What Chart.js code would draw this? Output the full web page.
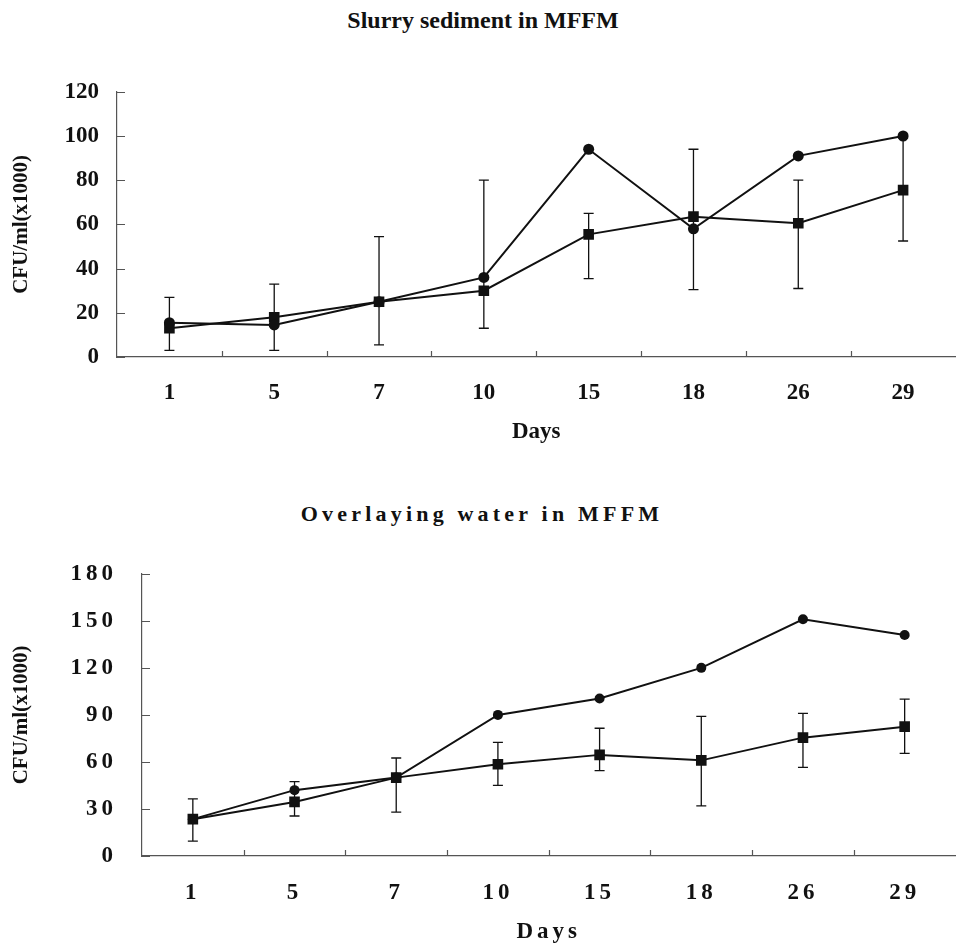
<!DOCTYPE html>
<html>
<head>
<meta charset="utf-8">
<script src="https://cdn.jsdelivr.net/npm/chart.js@4.4.1/dist/chart.umd.min.js"></script>
<style>
  html, body { margin: 0; padding: 0; background: #fff; overflow: hidden; }
  body { width: 963px; height: 950px; position: relative; font-family: "Liberation Serif", "Times New Roman", serif; }
  .ttl { position: absolute; left: 0; font-weight: bold; line-height: 26px; text-align: center; color: #111; white-space: nowrap; }
  .box { position: absolute; left: 0; width: 963px; }
</style>
</head>
<body>
<div class="ttl" style="top:7px;width:966px;font-size:24px">Slurry sediment in MFFM</div>
<div class="ttl" style="top:501px;width:964px;font-size:22px;letter-spacing:4.2px">Overlaying water in MFFM</div>
<div class="box" style="top:60px;height:400px"><canvas id="sed"></canvas></div>
<div class="box" style="top:535px;height:415px"><canvas id="wat"></canvas></div>
<script>
/* 두 패널: 슬러리 퇴적물 / 상부수, 원(●)과 사각(■) 계열, 사각 계열에 오차막대 */

const INK = '#111', AXIS = '#555';
const SERIF = '"Liberation Serif", "Times New Roman", serif';

const days = ['1', '5', '7', '10', '15', '18', '26', '29'];

// 위 패널 (Slurry sediment)
const sedCircle = [15.5, 14.5, 25, 36, 94, 58, 91, 100];
const sedSquare = [13, 18, 25, 30, 55.5, 63.5, 60.5, 75.5];
const sedLow    = [3, 3, 5.5, 13, 35.5, 30.5, 31, 52.5];
const sedHigh   = [27, 33, 54.5, 80, 65, 94, 80, 99];
const sedTicks  = { max: 120, step: 20 };

// 아래 패널 (Overlaying water)
const watCircle = [23.5, 42, 50, 90, 100.5, 120, 151, 141];
const watSquare = [23.5, 34.5, 50, 58.5, 64.5, 61, 75.5, 82.5];
const watLow    = [9.5, 25.5, 28, 45, 54.5, 32, 56.5, 65.5];
const watHigh   = [36.5, 47.5, 62.5, 72.5, 81.5, 89, 91, 100];
const watTicks  = { max: 180, step: 30 };

/* 오차막대 + 안쪽으로 향한 눈금 */
const marks = {
  id: 'marks',
  beforeDatasetsDraw(c, _a, o) {
    const { ctx } = c, x = c.scales.x, y = c.scales.y;
    ctx.save();
    ctx.strokeStyle = INK; ctx.lineWidth = 1.3;
    o.lo.forEach((lo, i) => {
      const px = x.getPixelForValue(i), a = y.getPixelForValue(lo), b = y.getPixelForValue(o.hi[i]);
      ctx.beginPath();
      ctx.moveTo(px, a); ctx.lineTo(px, b);
      ctx.moveTo(px - 5, a); ctx.lineTo(px + 5, a);
      ctx.moveTo(px - 5, b); ctx.lineTo(px + 5, b);
      ctx.stroke();
    });
    ctx.restore();
  },
  afterDraw(c) {
    const { ctx } = c, x = c.scales.x, y = c.scales.y;
    ctx.save();
    ctx.strokeStyle = AXIS; ctx.lineWidth = 1.2;
    ctx.beginPath();
    y.ticks.forEach(t => {
      const py = Math.round(y.getPixelForValue(t.value)) + 0.5;
      ctx.moveTo(y.right, py); ctx.lineTo(y.right + 8, py);
    });
    for (let i = 1; i < days.length; i++) {
      const px = Math.round((x.getPixelForValue(i - 1) + x.getPixelForValue(i)) / 2) + 0.5;
      ctx.moveTo(px, x.top); ctx.lineTo(px, x.top - 6);
    }
    ctx.stroke();
    ctx.restore();
  },
};

/* 아래 패널은 글자 간격이 넓다 (y축 제목 제외) */
const spaced = {
  id: 'spaced',
  afterUpdate(c) {
    const y = c.scales.y;
    if (y._plain) return;
    const orig = y.drawTitle.bind(y);
    y.drawTitle = () => { const s = c.ctx.letterSpacing; c.ctx.letterSpacing = '0px'; orig(); c.ctx.letterSpacing = s; };
    y._plain = true;
  },
  beforeDraw(c) { c.ctx.letterSpacing = '4px'; },
  afterDraw(c) { c.ctx.letterSpacing = '0px'; },
};

function panel(id, circle, square, lo, hi, yt, g, extra) {
  const font = size => ({ family: SERIF, size, weight: 'bold' });
  const line = (data, style, r) => ({
    data, borderColor: INK, borderWidth: 2, backgroundColor: INK, tension: 0,
    pointStyle: style, pointRadius: r, pointBackgroundColor: INK, pointBorderColor: INK, pointBorderWidth: 0,
  });
  return new Chart(document.getElementById(id), {
    type: 'line',
    data: { labels: days, datasets: [line(circle, 'circle', g.cr), line(square, 'rect', 7.5)] },
    plugins: [marks, ...extra],
    options: {
      responsive: true, maintainAspectRatio: false, animation: false,
      layout: { padding: { top: 20, left: 0, right: 0, bottom: 0 } },
      plugins: { legend: { display: false }, tooltip: { enabled: false }, marks: { lo, hi } },
      scales: {
        x: {
          offset: true,
          grid: { display: false, drawTicks: false, offset: true },
          border: { display: true, color: AXIS, width: 1.2 },
          ticks: { color: INK, font: font(23), padding: g.xPad, maxRotation: 0, autoSkip: false },
          title: { display: true, text: 'Days', color: INK, font: font(23), padding: { top: 0, bottom: g.tPad } },
          afterFit: s => { s.height = g.xH; },
        },
        y: {
          min: 0, max: yt.max,
          grid: { display: false, drawTicks: false },
          border: { display: true, color: AXIS, width: 1.2 },
          ticks: { stepSize: yt.step, color: INK, font: font(23), padding: g.yPad },
          title: { display: true, text: 'CFU/ml(x1000)', color: INK, font: font(21), padding: { top: 9, bottom: 0 } },
          afterFit: s => { s.width = g.yW; },
        },
      },
    },
  });
}

panel('sed', sedCircle, sedSquare, sedLow, sedHigh, sedTicks,
  { cr: 5.5, xPad: 22, tPad: 14, xH: 103, yW: 117, yPad: 18 }, []);
panel('wat', watCircle, watSquare, watLow, watHigh, watTicks,
  { cr: 5, xPad: 23, tPad: 4, xH: 94, yW: 142, yPad: 25 }, [spaced]);
</script>
</body>
</html>
